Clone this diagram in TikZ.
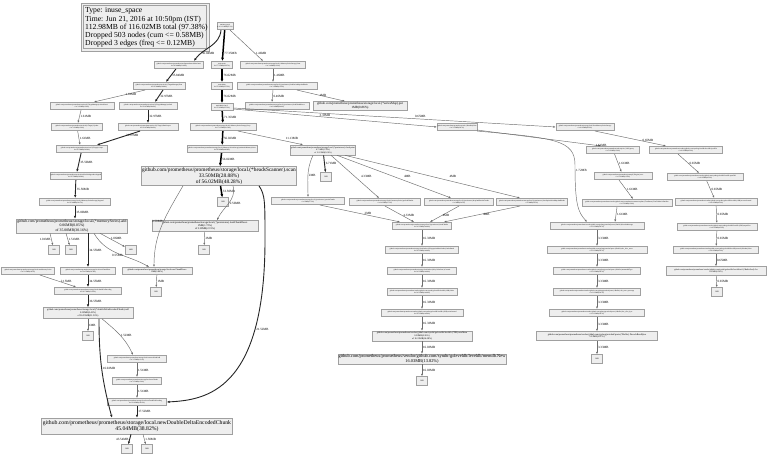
\documentclass[tikz,border=0pt]{standalone}
\usepackage{fontspec}
\setmainfont{Liberation Serif}
\usetikzlibrary{arrows.meta}
\definecolor{nfill}{HTML}{EEEEEE}
\definecolor{nbord}{HTML}{A0A0A0}
\definecolor{egray}{HTML}{6E6E6E}
\newcommand\fsz[2]{\fontsize{#1}{#2}\selectfont}
\begin{document}
\begin{tikzpicture}[x=1pt,y=-1pt,
  fn/.style={draw=nbord, fill=nfill, line width=0.6pt, inner sep=0.4pt, align=center, font=\fsz{1.7}{2.0}, minimum height=7.5pt},
  tg/.style={draw=nbord, fill=nfill, line width=0.9pt, inner sep=0pt, minimum width=11pt, minimum height=8.5pt, font=\fsz{2}{2.4}},
  lbl/.style={font=\fsz{3.2}{3.6}, inner sep=0.8pt, text=black},
  e/.style={draw=egray, line width=0.45pt, -{Latex[length=2.4pt,width=2pt]}},
  em/.style={draw=black!85, line width=0.9pt, -{Latex[length=2.8pt,width=2.4pt]}},
  eb/.style={draw=black, line width=1.5pt, -{Latex[length=3.2pt,width=3pt]}}]
\useasboundingbox[fill=white] (0,0) rectangle (768,455);

% legend
\draw[nbord, fill=nfill, line width=0.7pt] (81,3) rectangle (209,51);
\draw[nbord, line width=0.7pt] (83.5,5.5) rectangle (206.5,48.5);
\node[anchor=north west, align=left, inner sep=0pt, font=\fsz{7.7}{8.3}] (legend) at (85,7.5)
 {Type: inuse\_space\\Time: Jun 21, 2016 at 10:50pm (IST)\\112.98MB of 116.02MB total (97.38\%)\\Dropped 503 nodes (cum <= 0.58MB)\\Dropped 3 edges (freq <= 0.12MB)};

% ---------- nodes ----------
\node[fn, minimum width=16pt] (root) at (225,26) {runtime.goexit\\0 of 112.8MB(97.2\%)};
\node[fn, minimum width=49pt] (L1) at (179,65) {github.com/prometheus/prometheus/cmd/prometheus.Main.func1\\0 of 36.04MB(31.06\%)};
\node[fn, minimum width=21pt] (M1) at (222,65) {main.main\\0 of 77.35MB(66.67\%)};
\node[fn, minimum width=65pt] (R1) at (273,65) {github.com/prometheus/prometheus/storage/local.(*MemorySeriesStorage).Start\\0 of 1.46MB(1.26\%)};

\node[fn, minimum width=52pt] (L2) at (159,86) {github.com/prometheus/prometheus/retrieval.(*TargetManager).Run\\0 of 35.84MB(30.89\%)};
\node[fn, minimum width=21pt] (M2) at (222,86) {main.Main\\0 of 76.02MB(65.52\%)};
\node[fn, minimum width=80pt] (R2) at (277,86) {github.com/prometheus/prometheus/storage/local.(*persistence).loadSeriesMapAndHeads\\0 of 1.46MB(1.26\%)};

\node[fn, minimum width=64pt] (LL3) at (82,106) {github.com/prometheus/prometheus/retrieval.(*TargetManager).reload.func1\\0 of 1.61MB(1.39\%)};
\node[fn, minimum width=58pt] (LR3) at (148,106) {github.com/prometheus/prometheus/retrieval.(*TargetManager).reload\\0 of 32.97MB(28.42\%)};
\node[fn, minimum width=22pt] (M3) at (222,107) {main.Main.func2\\0 of 76.02MB(65.52\%)};
\node[fn, minimum width=64pt] (R3a) at (277,106) {github.com/prometheus/prometheus/storage/local.(*persistence).loadChunkDescs\\0 of 0.46MB(0.40\%)};
\node[fn, minimum width=94pt, minimum height=9pt, font=\fsz{3.2}{3.6}] (R3b) at (360,106) {github.com/prometheus/prometheus/storage/local.(*seriesMap).put\\1MB(0.86\%)};

\node[fn, minimum width=51pt] (LL4) at (77,127) {github.com/prometheus/prometheus/retrieval.(*Target).Update\\0 of 1.61MB(1.39\%)};
\node[fn, minimum width=60pt] (LR4) at (148,127) {github.com/prometheus/prometheus/retrieval.(*Target).RunScraper\\0 of 32.97MB(28.42\%)};
\node[fn, minimum width=66pt] (M4) at (223,127) {github.com/prometheus/prometheus/storage/local.(*MemorySeriesStorage).loop\\0 of 71.35MB(61.50\%)};
\node[fn, minimum width=39pt] (N457) at (457,127) {github.com/prometheus/prometheus/web.(*Handler).Run\\0 of 3.33MB(2.87\%)};
\node[fn, minimum width=58pt] (R0) at (585,127) {github.com/prometheus/prometheus/storage/local.NewMemorySeriesStorage\\0 of 0.65MB(0.56\%)};

\node[fn, minimum width=51pt] (L5) at (82,149) {github.com/prometheus/prometheus/retrieval.(*Target).scrape\\0 of 35.50MB(30.60\%)};
\node[fn, minimum width=70pt] (M5) at (222,149) {github.com/prometheus/prometheus/storage/local.(*MemorySeriesStorage).maintainMemorySeries\\0 of 56.02MB(48.28\%)};
\node[fn, minimum width=64pt, minimum height=10pt, font=\fsz{2.1}{2.5}] (MR5) at (323,150) {github.com/prometheus/prometheus/storage/local.(*persistence).checkpoint\\6.71MB(5.78\%)\\of 11.13MB(9.59\%)};
\node[fn, minimum width=53pt] (RA) at (613,150) {github.com/prometheus/prometheus/web/api/v1.(*API).query\\0 of 1.61MB(1.39\%)};
\node[fn, minimum width=73pt] (RC) at (686,150) {github.com/prometheus/prometheus/vendor/github.com/syndtr/goleveldb/leveldb.OpenFile\\0 of 0.65MB(0.56\%)};

\node[fn, minimum width=51pt] (L6) at (76,176) {github.com/prometheus/prometheus/retrieval.ruleLabelsAppender.Append\\0 of 35.50MB(30.60\%)};
\node[fn, minimum width=146pt, minimum height=19pt, font=\fsz{5.35}{5.8}] (heads) at (219,176) {github.com/prometheus/prometheus/storage/local.(*headsScanner).scan\\33.50MB(28.88\%)\\of 56.02MB(48.28\%)};
\node[fn, minimum width=58pt] (RA2) at (623,176) {github.com/prometheus/prometheus/promql.(*Engine).exec\\0 of 1.61MB(1.39\%)};
\node[fn, minimum width=76pt] (RC2) at (705,177) {github.com/prometheus/prometheus/vendor/github.com/syndtr/goleveldb/leveldb.openDB\\0 of 0.65MB(0.56\%)};

\node[fn, minimum width=71pt] (L7) at (75,202) {github.com/prometheus/prometheus/storage/local.(*MemorySeriesStorage).Append\\0 of 35.00MB(30.17\%)};
\node[tg] (th) at (223,202) {1kB};
\node[tg] (tm) at (326,177) {1kB};
\node[fn, minimum width=73pt] (N1) at (308,201) {github.com/prometheus/prometheus/storage/local.(*persistence).persistChunks\\0 of 2MB(1.72\%)};
\node[fn, minimum width=71pt] (N2) at (385,202) {github.com/prometheus/prometheus/storage/local.(*memorySeries).preloadChunks\\0 of 4.33MB(3.73\%)};
\node[fn, minimum width=69pt] (N3) at (459,202) {github.com/prometheus/prometheus/storage/local.(*persistence).dropAndPersistChunks\\0 of 4MB(3.45\%)};
\node[fn, minimum width=71pt] (N4) at (532,202) {github.com/prometheus/prometheus/storage/local.(*persistence).checkpointSeriesMapAndHeads\\0 of 4MB(3.45\%)};
\node[fn, minimum width=90pt] (RA3) at (627,203) {github.com/prometheus/prometheus/vendor/github.com/prometheus/common/expfmt.(*TextParser).TextToMetricFamilies\\0 of 1.61MB(1.39\%)};
\node[fn, minimum width=82pt] (RC3) at (716,202) {github.com/prometheus/prometheus/vendor/github.com/syndtr/goleveldb/leveldb.(*DB).recoverJournal\\0 of 0.65MB(0.56\%)};

\node[fn, minimum width=111pt, minimum height=14pt, font=\fsz{3.8}{4.3}] (mems) at (72,226) {github.com/prometheus/prometheus/storage/local.(*memorySeries).add\\0.06MB(0.05\%)\\of 35.00MB(30.16\%)};
\node[fn, minimum width=106pt, minimum height=11pt, font=\fsz{2.6}{3.1}] (cdesc) at (205,226) {github.com/prometheus/prometheus/storage/local.(*persistence).loadChunkDescs\\2MB(1.72\%)\\of 2.50MB(2.15\%)};
\node[fn, minimum width=59pt] (merge) at (422,226) {github.com/prometheus/prometheus/storage/local.(*persistence).loadChunks\\0 of 16.33MB(14.08\%)};
\node[fn, minimum width=94pt] (RB) at (597,226) {github.com/prometheus/prometheus/vendor/github.com/golang/protobuf/proto.(*Buffer).DecodeMessage\\0 of 3.33MB(2.87\%)};
\node[fn, minimum width=80pt] (RC4) at (717,227) {github.com/prometheus/prometheus/vendor/github.com/syndtr/goleveldb/leveldb.(*DB).mpoolGet\\0 of 0.65MB(0.56\%)};

\node[tg] (t1) at (54,250) {1kB};
\node[tg] (t2) at (71,250) {2kB};
\node[tg] (t3) at (131,250) {4kB};
\node[tg] (tc) at (204,250) {1kB};
\node[fn, minimum width=73pt] (MM2) at (422,250) {github.com/prometheus/prometheus/storage/local/index.(*FingerprintMetricIndex).IndexBatch\\0 of 16.33MB(14.08\%)};
\node[fn, minimum width=100pt] (RB2) at (597,250) {github.com/prometheus/prometheus/vendor/github.com/golang/protobuf/proto.(*Buffer).dec\_slice\_struct\\0 of 3.33MB(2.87\%)};
\node[fn, minimum width=85pt] (RC5) at (716,250) {github.com/prometheus/prometheus/vendor/github.com/syndtr/goleveldb/leveldb/journal.(*Reader).Next\\0 of 0.65MB(0.56\%)};

\node[fn, minimum width=53pt] (A) at (28,271) {github.com/prometheus/prometheus/storage/local.newMemorySeries\\0 of 2.15MB(1.85\%)};
\node[fn, minimum width=55pt] (B) at (88,271) {github.com/prometheus/prometheus/storage/local.newChunkDesc\\0 of 34.55MB(29.78\%)};
\node[fn, minimum width=70pt, font=\fsz{2.2}{2.6}] (C) at (157,271) {github.com/prometheus/prometheus/storage/local.newChunkDescs\\1MB(0.86\%)};
\node[fn, minimum width=69pt] (MM3) at (422,271) {github.com/prometheus/prometheus/storage/local/index.(*KeyValueStore).Commit\\0 of 16.33MB(14.08\%)};
\node[fn, minimum width=87pt] (RB3) at (597,271) {github.com/prometheus/prometheus/vendor/github.com/golang/protobuf/proto.(*Buffer).unmarshalType\\0 of 3.33MB(2.87\%)};
\node[fn, minimum width=100pt, minimum height=9pt, font=\fsz{2}{2.4}] (RC6) at (716,271) {github.com/prometheus/prometheus/vendor/github.com/syndtr/goleveldb/leveldb/util.(*BufferPool).Get\\0.65MB(0.56\%)};

\node[fn, minimum width=67pt] (D) at (88,291) {github.com/prometheus/prometheus/storage/local.chunkForEncoding\\0 of 36.70MB(31.63\%)};
\node[tg] (tcc) at (156,292) {1kB};
\node[fn, minimum width=70pt] (MM4) at (422,292) {github.com/prometheus/prometheus/vendor/github.com/syndtr/goleveldb/leveldb.(*DB).Write\\0 of 16.33MB(14.08\%)};
\node[fn, minimum width=87pt] (RB4) at (597,292) {github.com/prometheus/prometheus/vendor/github.com/golang/protobuf/proto.(*Buffer).dec\_struct\_message\\0 of 3.33MB(2.87\%)};
\node[tg] (trc) at (717,292) {1kB};

\node[fn, minimum width=90pt, minimum height=11pt, font=\fsz{2.4}{2.9}] (E) at (88,313) {github.com/prometheus/prometheus/storage/local.(*doubleDeltaEncodedChunk).add\\0.50MB(0.43\%)\\of 36.55MB(31.50\%)};
\node[fn, minimum width=82pt] (MM5) at (422,313) {github.com/prometheus/prometheus/vendor/github.com/syndtr/goleveldb/leveldb.(*DB).writeJournal\\0 of 16.33MB(14.08\%)};
\node[fn, minimum width=95pt] (RB5) at (597,313) {github.com/prometheus/prometheus/vendor/github.com/golang/protobuf/proto.(*Buffer).dec\_slice\_byte\\0 of 3.33MB(2.87\%)};

\node[tg] (te) at (88,336) {1kB};
\node[fn, minimum width=100pt, minimum height=10pt, font=\fsz{2.3}{2.7}] (MM6) at (422,336) {github.com/prometheus/prometheus/vendor/github.com/syndtr/goleveldb/leveldb.(*DB).newMem\\0.30MB(0.26\%)\\of 16.33MB(14.08\%)};
\node[fn, minimum width=121pt, minimum height=9pt, font=\fsz{2.3}{2.7}] (RB6) at (597,336) {github.com/prometheus/prometheus/vendor/github.com/golang/protobuf/proto.(*Buffer).DecodeRawBytes\\3.33MB(2.87\%)};

\node[fn, minimum width=59pt] (F) at (137,359) {github.com/prometheus/prometheus/storage/local.transcodeAndAdd\\0 of 1.52MB(1.31\%)};
\node[fn, minimum width=168pt, minimum height=10pt, font=\fsz{4.4}{4.8}] (memdb) at (422,359) {github.com/prometheus/prometheus/vendor/github.com/syndtr/goleveldb/leveldb/memdb.New\\16.03MB(13.82\%)};
\node[tg] (trb) at (597,359) {1kB};

\node[fn, minimum width=49pt] (G) at (137,381) {github.com/prometheus/prometheus/storage/local.newChunk\\0 of 1.51MB(1.30\%)};
\node[tg] (tmm) at (422,381) {1kB};

\node[fn, minimum width=59pt] (H) at (137,402) {github.com/prometheus/prometheus/storage/local.newChunkForEncoding\\0 of 21.03MB(18.13\%)};

\node[fn, minimum width=191pt, minimum height=16pt, font=\fsz{5.7}{6.4}] (chunk) at (137,426) {github.com/prometheus/prometheus/storage/local.newDoubleDeltaEncodedChunk\\45.04MB(38.82\%)};
\node[tg] (tk1) at (127,449) {1kB};
\node[tg] (tk2) at (147,449) {2kB};

% ---------- edges ----------
\draw[eb] (root) -- node[lbl,right,pos=0.75]{77.35MB} (M1);
\draw[em] ([xshift=-4pt]root.south) to[out=-95,in=55] node[lbl,right,pos=0.78]{36.04MB} ([xshift=15pt]L1.north);
\draw[e] ([xshift=5pt]root.south) -- node[lbl,right,pos=0.75]{1.46MB} ([xshift=-10pt]R1.north);

\draw[em] (L1) -- node[lbl,right]{35.84MB} ([xshift=7pt]L2.north);
\draw[eb] (M1) -- node[lbl,right]{76.02MB} (M2);
\draw[e] (R1) -- node[lbl,right]{1.46MB} ([xshift=-4pt]R2.north);

\draw[e] ([xshift=-14pt]L2.south) -- node[lbl,right,pos=0.4]{1.61MB} ([xshift=12pt]LL3.north);
\draw[em] ([xshift=4pt]L2.south) -- node[lbl,right]{32.97MB} ([xshift=7pt]LR3.north);
\draw[eb] (M2) -- node[lbl,right]{76.02MB} (M3);
\draw[e] ([xshift=-4pt]R2.south) -- node[lbl,right]{0.46MB} ([xshift=-5pt]R3a.north);
\draw[e] ([xshift=20pt]R2.south) -- node[lbl,right,pos=0.45]{1MB} ([xshift=-15pt]R3b.north);

\draw[e] (LL3) -- node[lbl,right]{1.61MB} (LL4);
\draw[em] (LR3) -- node[lbl,right]{32.97MB} (LR4);
\draw[eb] (M3) -- node[lbl,right]{71.35MB} (M4);
\draw[e] ([yshift=-2pt]M3.east) -- node[lbl,above,pos=0.45]{3.33MB} (N457.west);
\draw[e] ([yshift=-1pt]M3.east) -- node[lbl,above,pos=0.58]{0.65MB} (R0.west);

\draw[e] (LL4) -- node[lbl,right]{1.61MB} ([xshift=-2pt]L5.north);
\draw[em] ([xshift=-8pt]LR4.south) -- node[lbl,right,pos=0.35]{32.97MB} ([xshift=15pt]L5.north);
\draw[eb] (M4) -- node[lbl,right]{56.02MB} (M5);
\draw[e] ([xshift=15pt]M4.south) -- node[lbl,above right,pos=0.72]{11.13MB} ([xshift=-20pt]MR5.north);
\draw[e] ([yshift=1pt]N457.south east) -- node[lbl,right,pos=0.95]{1.61MB} ([xshift=-12pt]RA.north);
\draw[e] (N457.south east) .. controls (555,138) and (575,140) .. (575,165) .. controls (575,205) and (578,212) .. node[lbl,right,pos=0.05]{1.72MB} ([xshift=-10pt]RB.north);
\draw[e] ([xshift=10pt]R0.south) -- node[lbl,right=4pt,pos=0.6]{0.65MB} ([xshift=-20pt]RC.north);

\draw[em] (L5) -- node[lbl,right]{35.50MB} (L6);
\draw[eb] (M5) -- node[lbl,right]{56.02MB} (heads);
\draw[em] (MR5) -- node[lbl,right]{6.71MB} (tm);
\draw[e] ([xshift=-10pt]MR5.south) to[out=-115,in=90] node[lbl,right]{2MB} (N1.north);
\draw[e] ([xshift=8pt]MR5.south) -- node[lbl,right=5pt,pos=0.5]{4.33MB} ([xshift=-6pt]N2.north);
\draw[e] ([xshift=14pt]MR5.south) -- node[lbl,right=9pt,pos=0.5]{4MB} ([xshift=-8pt]N3.north);
\draw[e] ([xshift=22pt]MR5.south) -- node[lbl,right=16pt,pos=0.5]{4MB} ([xshift=-12pt]N4.north);
\draw[e] (RA) -- node[lbl,right]{1.61MB} (RA2);
\draw[e] ([xshift=-8pt]RC.south) -- node[lbl,right]{0.65MB} ([xshift=-6pt]RC2.north);

\draw[em] (L6) -- node[lbl,right]{35.50MB} (L7);
\draw[eb] (heads) -- node[lbl,right]{33.50MB} (th);
\draw[e] ([xshift=14pt]heads.south) to[out=-75,in=65] node[lbl,right]{2.50MB} ([xshift=12pt]cdesc.north);
\draw[e] ([xshift=-36pt]heads.south) to[out=-120,in=90] node[lbl,left,pos=0.45]{0.50MB} ([xshift=-3pt]C.north);
\draw[em] ([xshift=40pt]heads.south) .. controls (265,195) and (265,200) .. (265,240) .. controls (265,392) and (205,400) .. node[lbl,right,pos=0.25]{21.52MB} (H.east);

\draw[e] ([xshift=12pt]N1.south) -- node[lbl,above,pos=0.6]{2MB} ([xshift=-22pt]merge.north);
\draw[e] (N2.south) -- node[lbl,right,pos=0.6]{4.33MB} ([xshift=-8pt]merge.north);
\draw[e] (N3.south) -- node[lbl,right,pos=0.6]{4MB} ([xshift=8pt]merge.north);
\draw[e] ([xshift=-12pt]N4.south) -- node[lbl,right,pos=0.5]{4MB} ([xshift=22pt]merge.north);
\draw[e] ([xshift=-4pt]RA2.south) -- node[lbl,right]{1.61MB} ([xshift=6pt]RA3.north);
\draw[e] ([xshift=-10pt]RA3.south) -- node[lbl,right]{1.61MB} ([xshift=18pt]RB.north);
\draw[e] (RC2) -- node[lbl,right]{0.65MB} (RC3);

\draw[em] (L7) -- node[lbl,right]{35.00MB} ([xshift=3pt]mems.north);
\draw[e] (cdesc) -- node[lbl,right]{2MB} (tc);
\draw[e] (RC3) -- node[lbl,right]{0.65MB} (RC4);
\draw[e] (merge) -- node[lbl,right]{16.33MB} (MM2);
\draw[e] (RB) -- node[lbl,right]{3.33MB} (RB2);

\draw[e] ([xshift=-22pt]mems.south) -- node[lbl,left,pos=0.5]{1.01MB} (t1);
\draw[e] ([xshift=-6pt]mems.south) -- node[lbl,right,pos=0.5]{1.51MB} (t2);
\draw[e] ([xshift=28pt]mems.south) -- node[lbl,right,pos=0.4]{1.06MB} (t3);
\draw[em] ([xshift=16pt]mems.south) -- node[lbl,right,pos=0.5]{34.55MB} (B.north);
\draw[e] ([xshift=22pt]mems.south) to[out=-60,in=150] node[lbl,left,pos=0.6]{0.55MB} ([xshift=-8pt]C.north);
\draw[e] (RC4) -- node[lbl,right]{0.65MB} (RC5);
\draw[e] (MM2) -- node[lbl,right]{16.33MB} (MM3);
\draw[e] (RB2) -- node[lbl,right]{3.33MB} (RB3);

\draw[e] ([xshift=12pt]A.south) -- node[lbl,right,pos=0.55]{2.15MB} ([xshift=-12pt]D.north);
\draw[em] (B) -- node[lbl,right]{34.55MB} (D);
\draw[e] (C) -- node[lbl,right]{1MB} (tcc);
\draw[e] (RC5) -- node[lbl,right]{0.65MB} (RC6);
\draw[e] (MM3) -- node[lbl,right]{16.33MB} (MM4);
\draw[e] (RB3) -- node[lbl,right]{3.33MB} (RB4);

\draw[em] (D) -- node[lbl,right]{36.55MB} (E);
\draw[e] (RC6) -- node[lbl,right]{0.65MB} (trc);
\draw[e] (MM4) -- node[lbl,right]{16.33MB} (MM5);
\draw[e] (RB4) -- node[lbl,right]{3.33MB} (RB5);

\draw[e] (E) -- node[lbl,right]{1MB} (te);
\draw[e] (MM5) -- node[lbl,right]{16.33MB} (MM6);
\draw[e] (RB5) -- node[lbl,right]{3.33MB} (RB6);
\draw[e] ([xshift=14pt]E.south) to[out=-40,in=115] node[lbl,right,pos=0.5]{1.52MB} ([xshift=-4pt]F.north);
\draw[em] ([xshift=11pt]E.south) to[out=-90,in=105] node[lbl,right,pos=0.5]{16.02MB} ([xshift=-25pt]chunk.north);

\draw[e] (MM6) -- node[lbl,right]{16.03MB} (memdb);
\draw[e] (RB6) -- node[lbl,right]{3.33MB} (trb);
\draw[e] (F) -- node[lbl,right]{1.51MB} (G);
\draw[e] (memdb) -- node[lbl,right]{16.03MB} (tmm);
\draw[e] (G) -- node[lbl,right]{1.51MB} (H);
\draw[em] (H) -- node[lbl,right]{17.52MB} (chunk);
\draw[em] ([xshift=-6pt]chunk.south) -- node[lbl,left]{43.54MB} (tk1);
\draw[e] ([xshift=6pt]chunk.south) -- node[lbl,right]{1.50MB} (tk2);
\end{tikzpicture}
\end{document}
